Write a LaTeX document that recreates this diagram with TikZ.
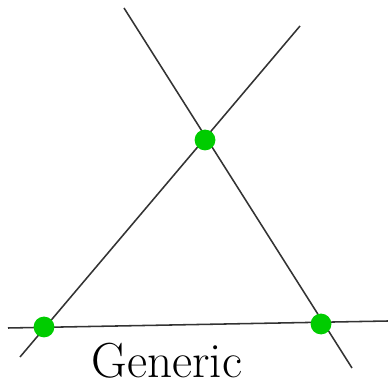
\documentclass[tikz,border=0pt]{standalone}
\usepackage{amsmath,amssymb}
\usetikzlibrary{positioning}

\begin{document}
\begin{tikzpicture}[x=0.025cm,y=-0.025cm]
\tikzset{
  crossing/.style={circle,fill=green!80!black,minimum size=0.52cm,inner sep=0pt},
  thinline/.style={line width=1.1pt,draw=black!80},
  caption/.style={font=\fontsize{35}{40}\selectfont,anchor=base,inner sep=0pt}
}
\useasboundingbox (0,0) rectangle (388,385);
\coordinate (e_a1) at (124,8);
\coordinate (e_a2) at (352,368);
\coordinate (e_b1) at (300,26);
\coordinate (e_b2) at (20,357);
\coordinate (e_c1) at (8,328);
\coordinate (e_c2) at (388,321);
\draw[thinline] (e_a1) -- (e_a2);
\draw[thinline] (e_b1) -- (e_b2);
\draw[thinline] (e_c1) -- (e_c2);
\node[crossing] (p_top) at (205,140) {};
\node[crossing] (p_left) at (44,327) {};
\node[crossing] (p_right) at (321,324) {};
\node[caption] (lbl) at (167,378) {Generic};
\end{tikzpicture}
\end{document}
